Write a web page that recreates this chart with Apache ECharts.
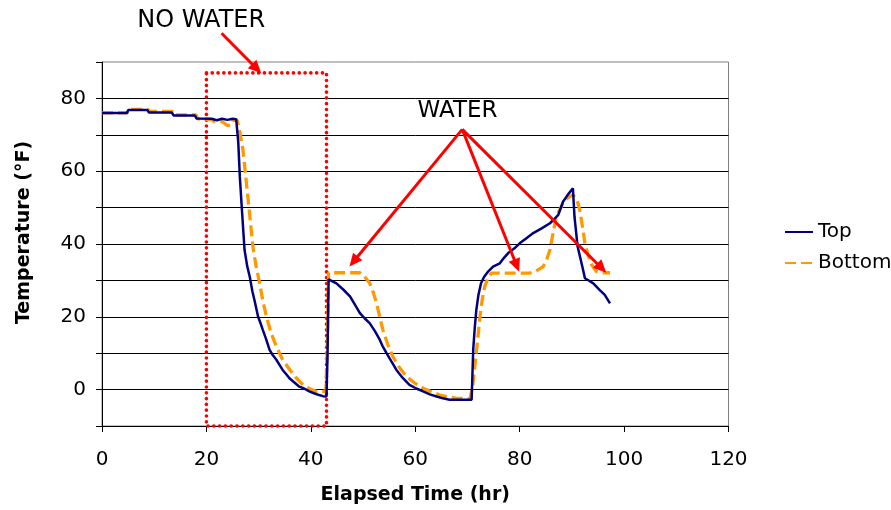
<!DOCTYPE html>
<html>
<head>
<meta charset="utf-8">
<script src="https://cdn.jsdelivr.net/npm/echarts@6/dist/echarts.min.js"></script>
<style>html,body{margin:0;padding:0;background:#fff}#c{width:891px;height:510px}</style>
</head>
<body>
<div id="c"></div>
<script>
// ---- data ----
const xTicks = [0, 20, 40, 60, 80, 100, 120];
const yTickLabels = [0, 20, 40, 60, 80];

const topTime = [0,4.8,5,8.7,9,13.4,13.7,17.8,18.1,21,22,23,24,25,25.7,26.1,26.4,26.8,27.3,27.8,28.3,28.8,29.2,29.9,30.3,30.8,31.4,32.1,32.7,33.4,34,34.6,35.3,35.9,36.8,37.8,38.7,39.7,40.6,41.6,42.3,43,43.2,43.4,43.6,44.9,46.2,47.5,48.5,49.4,50.3,51.3,52.3,53.2,53.8,54.5,55.4,56.4,57.6,58.9,60.2,61.5,62.8,64.1,65.3,66.6,70.8,71.1,71.4,71.7,72.1,72.6,73.2,74,74.9,76.2,77,77.8,79,80,81.3,82.6,84.2,85.8,86.6,87.4,88.3,89.2,90.2,90.5,91.1,92,92.5,93.3,94.1,95.3,96.3,97.3];
const topTemp = [76,76,76.8,76.8,76.1,76.1,75.3,75.3,74.5,74.4,74.0,74.4,74.1,74.4,74.3,68,58.5,49.4,38.4,34,31,27,24.6,20,18.5,16.4,14,10.9,9.5,8.2,6.8,5.4,4.2,3.1,2,0.8,0.3,-0.5,-1.0,-1.5,-1.8,-1.9,10,30.3,30.6,29.2,27.5,25.6,23.2,21,19.6,18.2,16,13.7,11.8,10,7.8,5.4,3.2,1.3,0.3,-0.5,-1.3,-1.9,-2.4,-2.8,-2.8,10.9,17,21.9,26,29.2,31,32.5,33.8,34.7,36.2,37.5,38.8,40.2,41.6,43,44.3,45.7,46.8,48,51.6,53.5,55.3,47.5,39.3,33.8,30.6,29.9,29.2,27.4,26,23.7];

const bottomTime = [0,4.8,5,8.8,9,13.5,13.8,18,18.3,21,21.5,23,24,24.7,25,25.9,26.5,27,27.5,28,28.5,28.9,29.5,30.2,30.8,31.5,32.4,33.4,34.6,36,37.2,38.5,39.8,41.1,42.9,43.2,43.4,49.4,50.3,51.3,52,52.6,53.2,53.8,54.7,55.7,57,58.3,59.9,61.5,63.1,64.7,66.3,67.9,70.5,71,71.4,71.9,72.4,72.8,73.3,73.9,74.6,81.9,83.2,84.5,85.2,85.8,86.4,87,88.3,89.2,90.2,91,91.5,92,92.5,93.2,93.8,94.7,95.5,97.3];
const bottomTemp = [76,76,77,77,76.4,76.4,75.5,75.5,74.4,74.2,73.6,73.6,72.6,72.6,74,74,70,65.8,59,52.1,45,39.3,34,29.2,24.5,20,15.5,11.8,8.2,5.4,3.2,1.3,0.2,-0.5,-0.5,15,32.1,32.1,31,29.2,26.5,23.7,20,16.4,12.5,9.1,6,3.6,1.8,0.4,-0.6,-1.5,-2,-2.4,-2.5,1,6.3,13,20,24.5,28.3,30.5,32,32,32.6,33.8,35.8,38.4,43,47.5,51.2,52.7,53.5,52,49.4,45,40.2,36.5,34.3,32.4,32.1,32.1];

// annotation anchors (data units)
const noWaterBox = [[20, 87], [43, -10]];
const noWaterLabelAt = [19, 101.2];
const noWaterArrow = [[22.9, 97.9], [30.5, 86.9]];
const waterLabelAt = [68.1, 76.6];
const waterFrom = [69, 71.5];
const waterTo = [[47.4, 33.8], [79.9, 32.4], [96.6, 32.1]];

const pair = (xs, ys) => xs.map((x, i) => [x, ys[i]]);
const FONT = 'DejaVu Sans';

const chart = echarts.init(document.getElementById('c'), null, {renderer: 'canvas'});
chart.setOption({
  animation: false,
  backgroundColor: '#fff',
  grid: {left: 102, right: 162.5, top: 62, bottom: 84, show: true, borderColor: '#808080', borderWidth: 1},
  xAxis: {
    type: 'value', min: 0, max: 120, interval: 20,
    name: 'Elapsed Time (hr)', nameLocation: 'middle', nameGap: 60,
    nameTextStyle: {fontFamily: FONT, fontWeight: 'bold', fontSize: 19, color: '#000'},
    axisLine: {show: true, onZero: false, lineStyle: {color: '#000', width: 1}},
    axisTick: {show: true, length: 6, lineStyle: {color: '#000'}},
    axisLabel: {margin: 24, fontFamily: FONT, fontSize: 20, color: '#000',
      formatter: v => xTicks.includes(v) ? String(v) : ''},
    splitLine: {show: false}
  },
  yAxis: {
    type: 'value', min: -10, max: 90, interval: 10,
    name: 'Temperature (°F)', nameLocation: 'middle', nameGap: 68, nameRotate: 90,
    nameTextStyle: {fontFamily: FONT, fontWeight: 'bold', fontSize: 19, color: '#000', padding: [0, 0, 0, 23]},
    axisLine: {show: true, onZero: false, lineStyle: {color: '#000', width: 1}},
    axisTick: {show: true, length: 6, lineStyle: {color: '#000'}},
    axisLabel: {margin: 16, fontFamily: FONT, fontSize: 20, color: '#000',
      formatter: v => yTickLabels.includes(v) ? String(v) : ''},
    splitLine: {show: true, showMinLine: false, showMaxLine: false, lineStyle: {color: '#000', width: 1}}
  },
  legend: {
    orient: 'vertical', left: 784, top: 222, padding: 0, itemWidth: 28, itemHeight: 14, itemGap: 11,
    textStyle: {fontFamily: FONT, fontSize: 20, color: '#000'},
    itemStyle: {opacity: 0, borderWidth: 0},
    data: ['Top', 'Bottom']
  },
  series: [
    {
      name: 'Top', type: 'line', data: pair(topTime, topTemp),
      symbol: 'none', lineStyle: {color: '#000080', width: 2.5}, itemStyle: {color: '#000080'},
      z: 3
    },
    {
      name: 'Bottom', type: 'line', data: pair(bottomTime, bottomTemp),
      symbol: 'none', lineStyle: {color: '#FF9900', width: 3.3, type: [11, 5]}, itemStyle: {color: '#FF9900'},
      z: 2,
      markArea: {
        silent: true,
        itemStyle: {color: 'rgba(0,0,0,0)', borderColor: '#FF0000', borderWidth: 3.6, borderType: [0.1, 5.7], borderCap: 'round'},
        data: [[{coord: noWaterBox[0]}, {coord: noWaterBox[1]}]]
      }
    }
  ]
});

// annotations (text + arrows) placed through the axis scales
function P(pt) { return chart.convertToPixel({gridIndex: 0}, pt); }
function arrow(from, to) {
  const a = P(from), b = P(to);
  const dx = b[0] - a[0], dy = b[1] - a[1];
  const len = Math.sqrt(dx * dx + dy * dy);
  const ux = dx / len, uy = dy / len;
  const L = 13, W = 6;
  const bx = b[0] - ux * L, by = b[1] - uy * L;
  const nx = -uy, ny = ux;
  return [
    {type: 'line', shape: {x1: a[0], y1: a[1], x2: bx + ux * 2, y2: by + uy * 2},
     style: {stroke: '#FF0000', lineWidth: 3}, z: 10},
    {type: 'polygon', shape: {points: [[b[0], b[1]], [bx + nx * W, by + ny * W], [bx - nx * W, by - ny * W]]},
     style: {fill: '#FF0000'}, z: 10}
  ];
}
const g = [];
const nw = P(noWaterLabelAt), w = P(waterLabelAt);
g.push({type: 'text', x: nw[0], y: nw[1], style: {text: 'NO WATER', font: '24px "DejaVu Sans"', fill: '#000', align: 'center', verticalAlign: 'middle'}, z: 10});
g.push({type: 'text', x: w[0], y: w[1], style: {text: 'WATER', font: '23px "DejaVu Sans"', fill: '#000', align: 'center', verticalAlign: 'middle'}, z: 10});
g.push(...arrow(noWaterArrow[0], noWaterArrow[1]));
waterTo.forEach(t => g.push(...arrow(waterFrom, t)));
chart.setOption({graphic: g});
</script>
</body>
</html>
